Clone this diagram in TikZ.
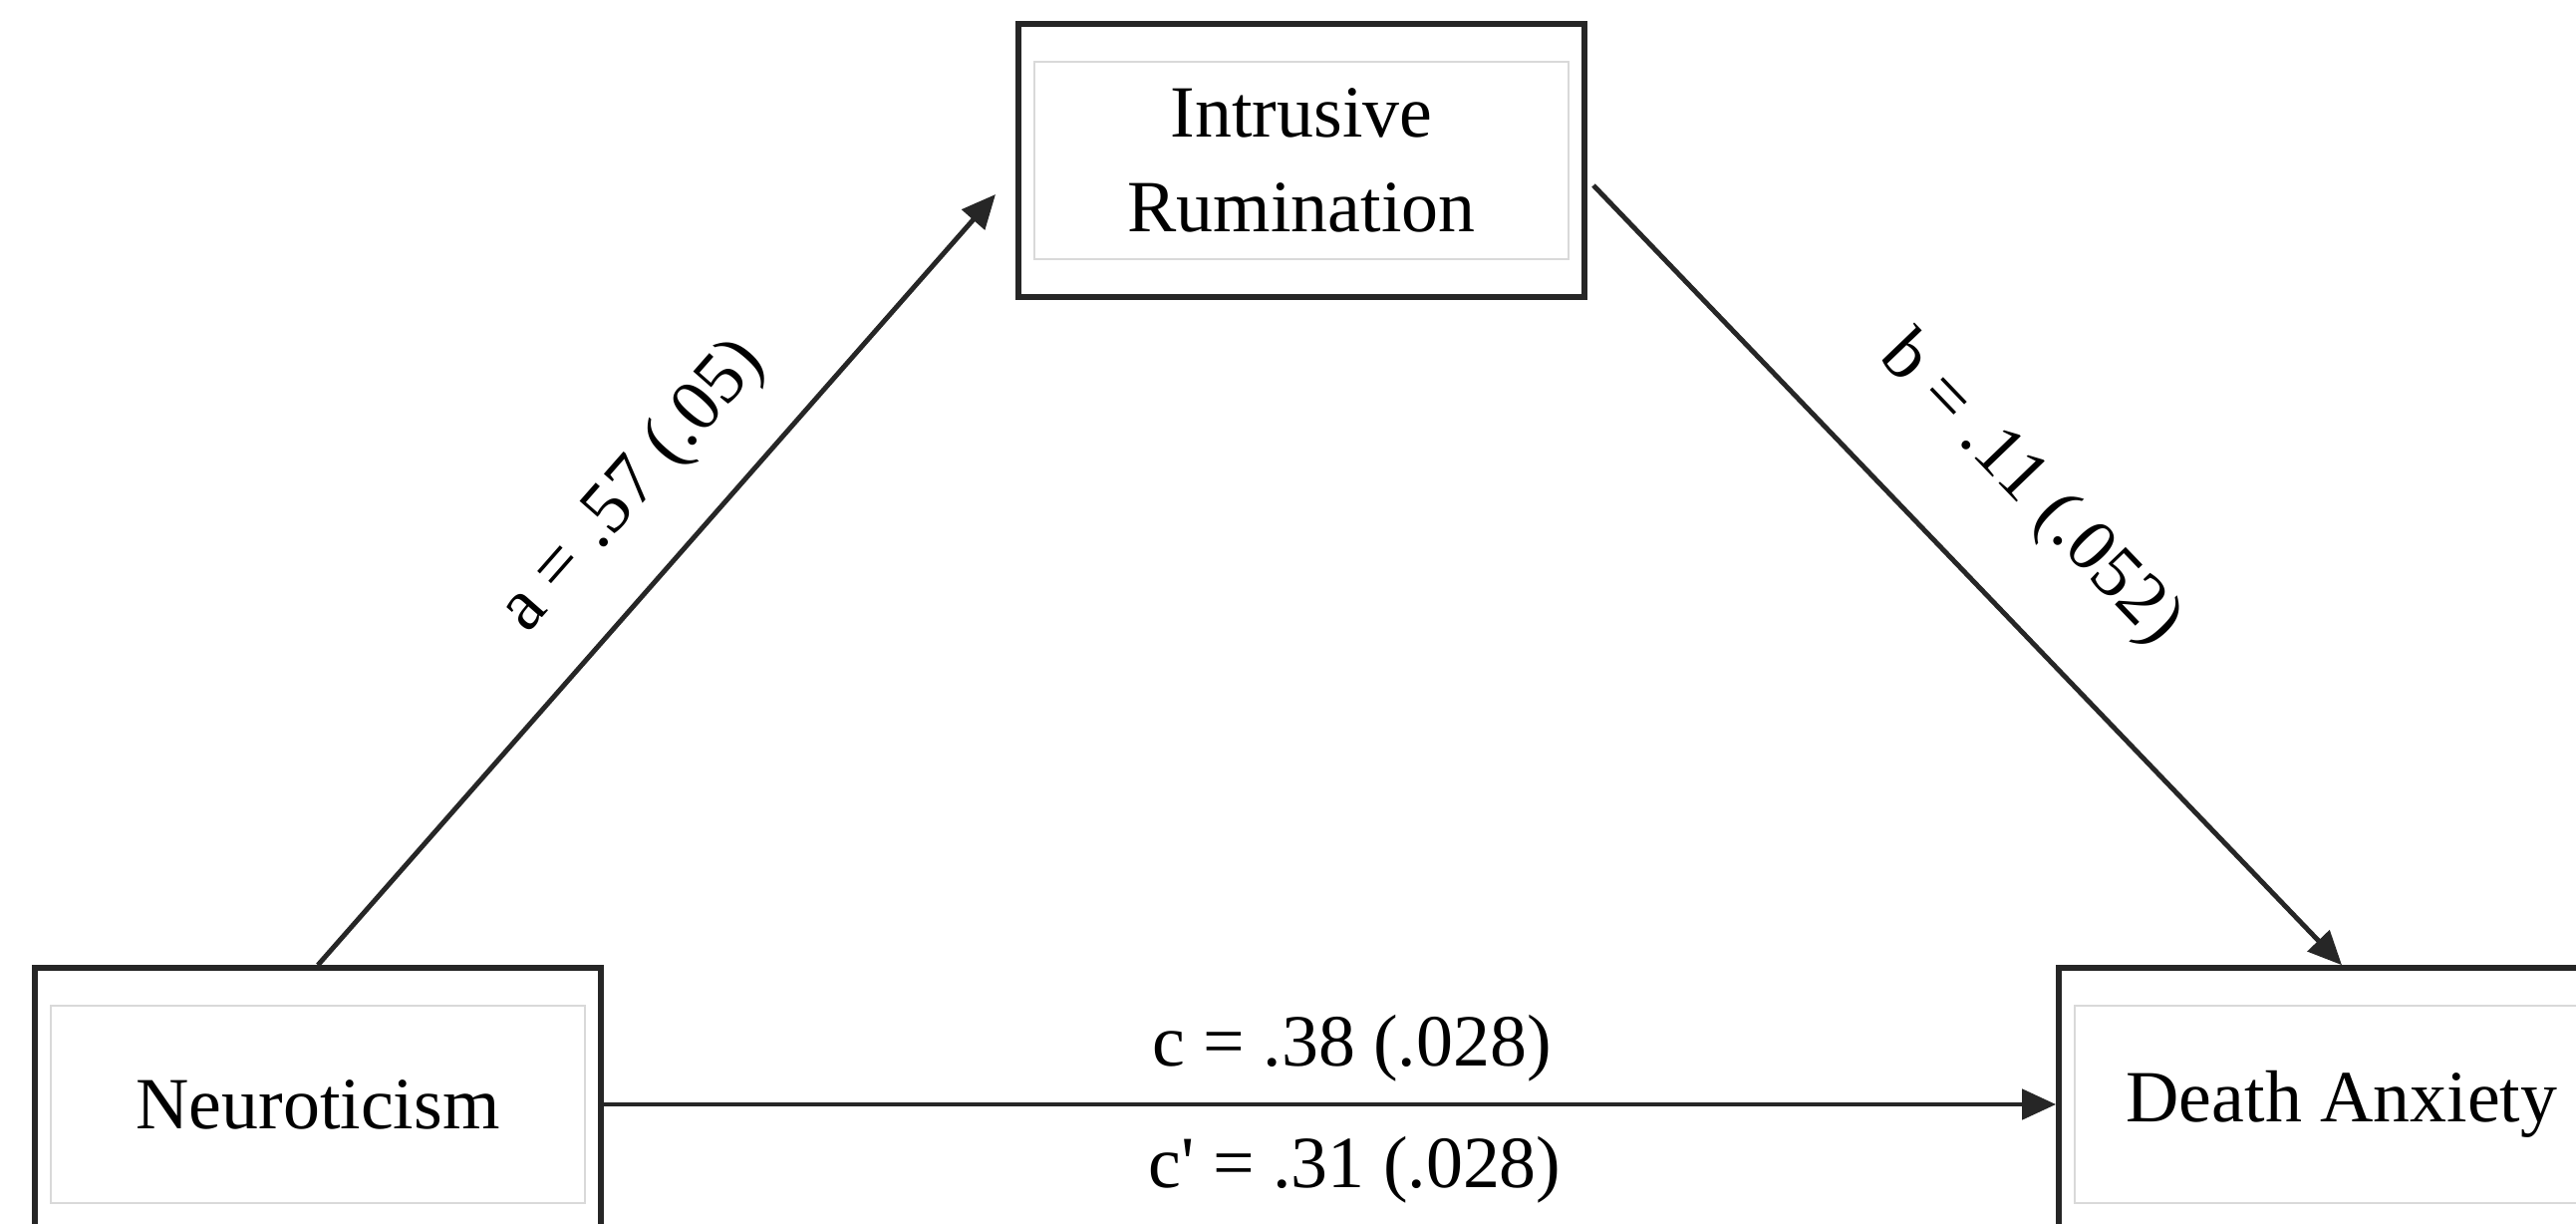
\documentclass[tikz,border=0pt]{standalone}
\usepackage{fontspec}
\setmainfont{Liberation Serif}
\usetikzlibrary{arrows.meta,fit}
\begin{document}
\begin{tikzpicture}[x=0.01cm,y=-0.01cm,
  font=\fontsize{21}{27}\selectfont,
  inbox/.style={draw=gray!30,line width=0.4pt,minimum width=5.36cm,minimum height=1.98cm,align=center,inner sep=0pt},
  frame/.style={draw=black!85,line width=1.7pt,inner xsep=0.15cm,inner ysep=0.37cm},
  arr/.style={draw=black!85,line width=1.4pt,-{Triangle[length=0.34cm,width=0.3cm]}},
  coef/.style={inner sep=0pt}]
\useasboundingbox (0,0) rectangle (2585,1228);
\node[inbox] (rum-in) at (1306,161) {Intrusive\\Rumination};
\node[frame,fit=(rum-in)] (rum) {};
\node[inbox] (neuro-in) at (319,1108) {Neuroticism};
\node[frame,fit=(neuro-in)] (neuro) {};
\node[inbox] (death-in) at (2350,1108) {Death Anxiety};
\node[frame,fit=(death-in)] (death) {};
\coordinate (a-end) at (999,195);
\coordinate (b-start) at (1599,186);
\draw[arr] (neuro.east) -- node[coef,above=0.2cm,xshift=0.22cm] {c = .38 (.028)}
  node[coef,below=0.3cm,xshift=0.25cm] {c\textquotesingle{} = .31 (.028)} (death.west);
\draw[arr] (neuro.north) -- node[coef,sloped,pos=0.553,above=0.43cm] {a = .57 (.05)} (a-end);
\draw[arr] (b-start) -- node[coef,sloped,pos=0.483,above=0.68cm] {b = .11 (.052)} (death.north);
\end{tikzpicture}
\end{document}
